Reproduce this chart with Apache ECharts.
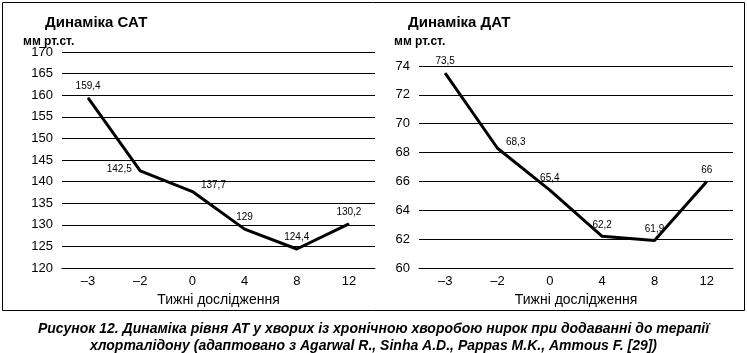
<!DOCTYPE html>
<html>
<head>
<meta charset="utf-8">
<script src="https://cdn.jsdelivr.net/npm/echarts@6/dist/echarts.min.js"></script>
<style>
  html, body { margin: 0; padding: 0; background: #fff; }
  #chart { width: 747px; height: 353px; }
</style>
</head>
<body>
<div id="chart"></div>
<script>
// дані з рисунка
var weeks = ['–3', '–2', '0', '4', '8', '12'];
var sadValues = [159.4, 142.5, 137.7, 129, 124.4, 130.2];
var dadValues = [73.5, 68.3, 65.4, 62.2, 61.9, 66];
var sadTicks = [120, 170, 5];
var dadTicks = [60, 74, 2];

// розташування підписів точок
var sadLabelPos = ['top', 'left', 'right', 'top', 'top', 'top'];
var dadLabelPos = ['top', 'right', 'top', 'top', 'top', 'top'];

var font = 'Liberation Sans, Arial, sans-serif';

function seriesData(values, pos) {
  return values.map(function (v, i) {
    var lbl = { position: pos[i] };
    if (pos[i] === 'right') lbl.offset = [2, -6];
    if (pos[i] === 'left') lbl.offset = [-2, -2];
    return { value: v, label: lbl };
  });
}

function xAxis(idx) {
  return {
    type: 'category', gridIndex: idx, data: weeks,
    name: 'Тижні дослідження', nameLocation: 'middle', nameGap: 24,
    nameTextStyle: { fontFamily: font, fontSize: 14, color: '#000' },
    axisLine: { lineStyle: { color: '#000', width: 1 } },
    axisTick: { show: false },
    axisLabel: { fontFamily: font, fontSize: 13, color: '#000', margin: 7 }
  };
}

function yAxis(idx, t) {
  return {
    type: 'value', gridIndex: idx, min: t[0], max: t[1], interval: t[2],
    axisLine: { show: false }, axisTick: { show: false },
    axisLabel: { fontFamily: font, fontSize: 13, color: '#000', margin: 9 },
    splitLine: { lineStyle: { color: '#000', width: 1 } }
  };
}

function lineSeries(idx, values, pos) {
  return {
    type: 'line', xAxisIndex: idx, yAxisIndex: idx,
    data: seriesData(values, pos),
    showSymbol: true, symbol: 'circle', symbolSize: 1,
    itemStyle: { color: '#000' },
    lineStyle: { color: '#000', width: 3 },
    label: {
      show: true, fontFamily: font, fontSize: 10, color: '#000', distance: 6,
      formatter: function (p) { return String(p.value).replace('.', ','); }
    },
    animation: false
  };
}

var myChart = echarts.init(document.getElementById('chart'));
var option = {
  backgroundColor: '#fff',
  animation: false,
  title: [
    { text: 'Динаміка САТ', left: 40, top: 10,
      textStyle: { fontFamily: font, fontSize: 15, fontWeight: 'bold', color: '#000' } },
    { text: 'мм рт.ст.', left: 18, top: 31,
      textStyle: { fontFamily: font, fontSize: 12, fontWeight: 'bold', color: '#000' } },
    { text: 'Динаміка ДАТ', left: 403, top: 10,
      textStyle: { fontFamily: font, fontSize: 15, fontWeight: 'bold', color: '#000' } },
    { text: 'мм рт.ст.', left: 389, top: 31,
      textStyle: { fontFamily: font, fontSize: 12, fontWeight: 'bold', color: '#000' } },
    { text: 'Рисунок 12. Динаміка рівня АТ у хворих із хронічною хворобою нирок при додаванні до терапії\nхлорталідону (адаптовано з Agarwal R., Sinha A.D., Pappas M.K., Ammous F. [29])',
      left: 'center', top: 316,
      textStyle: { fontFamily: 'Liberation Sans Narrow, Arial Narrow, sans-serif', fontSize: 14,
        fontWeight: 'bold', fontStyle: 'italic', color: '#000', lineHeight: 17, align: 'center' } }
  ],
  graphic: [
    { type: 'rect', shape: { x: 2.5, y: 2.5, width: 742, height: 308 },
      style: { fill: 'none', stroke: '#000', lineWidth: 1 }, silent: true }
  ],
  grid: [
    { left: 62, right: 372, top: 52, bottom: 85 },
    { left: 419, right: 14, top: 66, bottom: 85 }
  ],
  xAxis: [xAxis(0), xAxis(1)],
  yAxis: [yAxis(0, sadTicks), yAxis(1, dadTicks)],
  series: [lineSeries(0, sadValues, sadLabelPos), lineSeries(1, dadValues, dadLabelPos)]
};
myChart.setOption(option);
</script>
</body>
</html>
